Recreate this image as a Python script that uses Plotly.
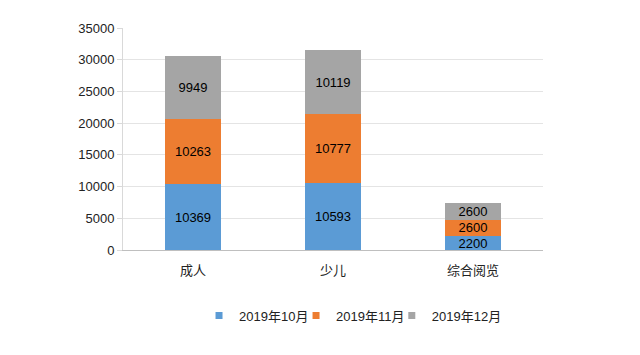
import plotly.graph_objects as go

categories = ["成人", "少儿", "综合阅览"]
series_names = ["2019年10月", "2019年11月", "2019年12月"]
oct_vals = [10369, 10593, 2200]
nov_vals = [10263, 10777, 2600]
dec_vals = [9949, 10119, 2600]
colors = ["#5B9BD5", "#ED7D31", "#A5A5A5"]
y_ticks = [0, 5000, 10000, 15000, 20000, 25000, 30000, 35000]
y_tick_text = ["0", "5000", "10000", "15000", "20000", "25000", "30000", "35000"]

font_family = "Liberation Sans, Arial, Noto Sans CJK SC, sans-serif"
legend_ids = ["legend", "legend2", "legend3"]
legend_x = [0.181, 0.412, 0.640]

fig = go.Figure()
for name, vals, c in zip(series_names, [oct_vals, nov_vals, dec_vals], colors):
    fig.add_trace(go.Bar(
        x=categories, y=vals, name=name, showlegend=False,
        marker=dict(color=c, line=dict(width=0)),
        text=[str(v) for v in vals], textposition="inside",
        insidetextanchor="middle", textangle=0, constraintext="none",
        textfont=dict(color="black", size=13, family=font_family),
        width=0.4,
    ))
# legend entries with small square symbols
for name, c, lid in zip(series_names, colors, legend_ids):
    fig.add_trace(go.Scatter(
        x=[None], y=[None], mode="markers", name=name, legend=lid,
        marker=dict(symbol="square", size=7, color=c),
    ))

leg_common = dict(orientation="h", y=-0.295, xanchor="left", yanchor="middle",
                  font=dict(size=13, color="#222", family=font_family),
                  itemwidth=30, bgcolor="rgba(0,0,0,0)")
fig.update_layout(
    barmode="stack",
    width=640, height=355,
    margin=dict(l=123, r=97, t=28, b=105),
    paper_bgcolor="white", plot_bgcolor="white",
    font=dict(family=font_family, size=13, color="#222"),
    showlegend=True,
    legend=dict(x=legend_x[0], **leg_common),
    legend2=dict(x=legend_x[1], **leg_common),
    legend3=dict(x=legend_x[2], **leg_common),
)
fig.update_xaxes(showline=True, linecolor="#BFBFBF", linewidth=1, ticks="",
                 tickfont=dict(size=13, family=font_family, color="#222"), ticklabelstandoff=8)
fig.update_yaxes(range=[0, 35000], tickvals=y_ticks, ticktext=y_tick_text,
                 showgrid=True, gridcolor="#E4E4E4",
                 showline=True, linecolor="#D9D9D9", ticks="outside", ticklen=5, tickcolor="#D9D9D9",
                 zeroline=False, tickfont=dict(size=13, family=font_family, color="#222"))

fig.write_html("out.html", config={"displayModeBar": False})
with open("out.html", "r", encoding="utf-8") as f:
    html = f.read()
html = html.replace("<body>", '<body style="margin:0">', 1)
with open("out.html", "w", encoding="utf-8") as f:
    f.write(html)
